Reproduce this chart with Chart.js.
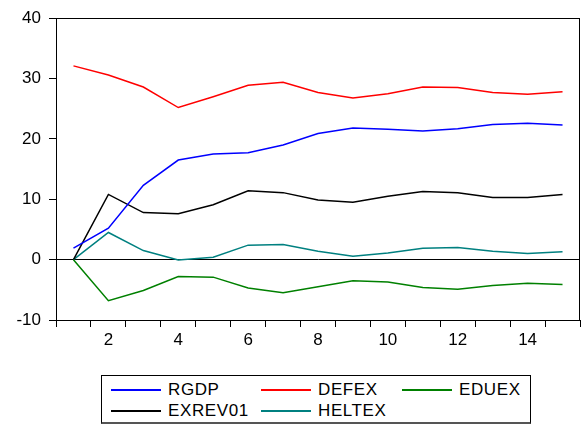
<!DOCTYPE html>
<html>
<head>
<meta charset="utf-8">
<script src="https://cdn.jsdelivr.net/npm/chart.js@4/dist/chart.umd.min.js"></script>
<style>
  html, body { margin: 0; padding: 0; background: #fff; }
  body { width: 585px; height: 427px; position: relative; overflow: hidden;
         font-family: "Liberation Sans", Arial, sans-serif; }
  #wrap { position: absolute; left: 0; top: 0; width: 585px; height: 345px; }
  #legend {
    position: absolute; left: 101px; top: 375px; width: 430px; height: 49px;
    border: 1px solid #000; border-bottom: 2px solid #555; box-sizing: border-box;
    display: grid; grid-template-columns: 150px 141px 1fr;
    grid-auto-rows: 21px; padding: 3px 0 0 9px;
  }
  .item { display: flex; align-items: center; font-size: 17px; letter-spacing: 0.6px; color: #000; }
  .item .swatch { width: 50px; height: 2px; margin-right: 7px; }
</style>
</head>
<body>
<div id="wrap"><canvas id="chart"></canvas></div>
<div id="legend"></div>
<script>
// observation periods
const periods = [1, 2, 3, 4, 5, 6, 7, 8, 9, 10, 11, 12, 13, 14, 15];

// series values
const rgdp    = [1.9, 5.2, 12.3, 16.5, 17.5, 17.7, 19.0, 20.9, 21.8, 21.6, 21.3, 21.7, 22.4, 22.6, 22.3];
const defex   = [32.1, 30.6, 28.6, 25.2, 27.0, 28.9, 29.4, 27.7, 26.8, 27.5, 28.6, 28.5, 27.7, 27.4, 27.8];
const eduex   = [0, -6.8, -5.1, -2.8, -2.9, -4.7, -5.5, -4.5, -3.5, -3.7, -4.6, -4.9, -4.3, -3.9, -4.1];
const exrev01 = [0, 10.8, 7.8, 7.6, 9.1, 11.4, 11.1, 9.9, 9.5, 10.5, 11.3, 11.1, 10.3, 10.3, 10.8];
const heltex  = [0, 4.5, 1.5, -0.05, 0.4, 2.4, 2.5, 1.4, 0.55, 1.1, 1.9, 2.0, 1.4, 1.0, 1.3];

const yTicks = [-10, 0, 10, 20, 30, 40];

const series = [
  { label: "RGDP", data: rgdp, color: "#0000ff" },
  { label: "DEFEX", data: defex, color: "#ff0000" },
  { label: "EDUEX", data: eduex, color: "#008000" },
  { label: "EXREV01", data: exrev01, color: "#000000" },
  { label: "HELTEX", data: heltex, color: "#008080" },
];

const FONT = { family: "'Liberation Sans', Arial, sans-serif", size: 17 };

// box around the plot area
const frame = {
  id: "frame",
  afterDraw(chart) {
    const { ctx, chartArea: a } = chart;
    ctx.save();
    ctx.strokeStyle = "#000";
    ctx.lineWidth = 1;
    ctx.strokeRect(Math.round(a.left) + 0.5, Math.round(a.top) + 0.5,
      Math.round(a.right - a.left) - 1, Math.round(a.bottom - a.top));
    ctx.restore();
  },
};

const chart = new Chart(document.getElementById("chart"), {
  type: "line",
  data: {
    labels: periods.map(String),
    datasets: series.map((s) => ({
      label: s.label,
      data: s.data,
      borderColor: s.color,
      backgroundColor: s.color,
      borderWidth: 1.5,
      pointRadius: 0,
      tension: 0,
    })),
  },
  options: {
    responsive: true,
    maintainAspectRatio: false,
    animation: false,
    layout: { padding: { top: 17, right: 5, left: 0, bottom: 0 } },
    plugins: { legend: { display: false }, tooltip: { enabled: false } },
    scales: {
      x: {
        type: "category",
        offset: true,
        grid: {
          offset: true,
          drawOnChartArea: false,
          drawTicks: true,
          tickLength: 7,
          tickColor: "#000",
        },
        border: { color: "#000", width: 1 },
        ticks: {
          autoSkip: false,
          maxRotation: 0,
          padding: 3,
          color: "#000",
          font: FONT,
          callback: (v, i) => (periods[i] % 2 === 0 ? String(periods[i]) : ""),
        },
        afterFit: (scale) => { scale.height = 25; },
      },
      y: {
        min: yTicks[0],
        max: yTicks[yTicks.length - 1],
        afterBuildTicks: (scale) => { scale.ticks = yTicks.map((v) => ({ value: v })); },
        grid: {
          color: (c) => (c.tick && c.tick.value === 0 ? "#000" : "rgba(0,0,0,0)"),
          tickColor: "#000",
          tickLength: 7,
          drawTicks: true,
        },
        border: { color: "#000", width: 1 },
        ticks: { color: "#000", font: FONT, padding: 8 },
        afterFit: (scale) => { scale.width = 56; },
      },
    },
  },
  plugins: [frame],
});

// boxed legend under the chart
const legend = document.getElementById("legend");
legend.innerHTML = series
  .map((s) => `<div class="item"><span class="swatch" style="background:${s.color}"></span>${s.label}</div>`)
  .join("");
</script>
</body>
</html>
